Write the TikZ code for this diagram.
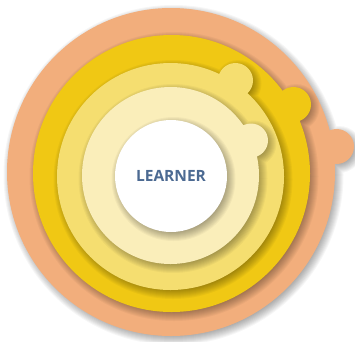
\documentclass[tikz,border=0pt]{standalone}
\usepackage{fontspec}
\setmainfont{Open Sans}
\definecolor{salmon}{RGB}{242,174,124}
\definecolor{darkyel}{RGB}{240,200,20}
\definecolor{midyel}{RGB}{245,222,112}
\definecolor{lightyel}{RGB}{250,238,186}
\definecolor{txtblue}{RGB}{76,106,146}
\tikzset{
  shadelayer/.style={fill=black, opacity=0.034},
  centre/.style={circle, fill=white, minimum size=112pt, inner sep=0pt,
    font=\bfseries\fontsize{15.5}{18}\selectfont, text=txtblue}
}
% soft drop shadow of a disc (cx,cy,r) joined with a bump (bx,by,br)
\newcommand\softshade[6]{%
  \foreach \dd in {-3,-2,...,6}{%
    \fill[shadelayer] (#1+2.5,#2+3) circle ({#3+\dd}) (#4+2.5,#5+3) circle ({#6+\dd});
  }}
% soft drop shadow of a single disc
\newcommand\softdisc[3]{%
  \foreach \dd in {-3,-2,...,6}{%
    \fill[shadelayer] (#1+2.5,#2+3) circle ({#3+\dd});
  }}
\begin{document}
\begin{tikzpicture}[x=1pt,y=-1pt]
\useasboundingbox (0,0) rectangle (355,341);
\fill[white] (0,0) rectangle (355,341);
% outer salmon ring with bump
\softshade{171}{172}{164}{336.5}{146.5}{17.5}
\fill[salmon] (171,172) circle (164) (336.5,146.5) circle (17.5);
% dark yellow ring with bump
\softshade{171.5}{173.5}{138.5}{293.5}{104.5}{17.5}
\fill[darkyel] (171.5,173.5) circle (138.5) (293.5,104.5) circle (17.5);
% medium yellow ring with bump
\softshade{170.5}{176.5}{113.5}{235.5}{80.5}{17.5}
\fill[midyel] (170.5,176.5) circle (113.5) (235.5,80.5) circle (17.5);
% light yellow ring with bump
\softshade{170.5}{175.5}{88.5}{251}{140.5}{17}
\fill[lightyel] (170.5,175.5) circle (88.5) (251,140.5) circle (17);
% centre
\softdisc{171}{176}{56}
\node[centre] (learner) at (171,176) {LEARNER};
\end{tikzpicture}
\end{document}
